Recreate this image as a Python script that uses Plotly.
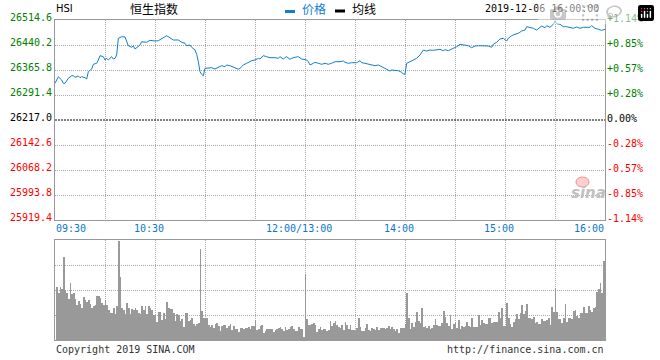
import plotly.graph_objects as go

# ---------------- data ----------------
prev_close = 26217.0
price_ticks = [26514.6, 26440.2, 26365.8, 26291.4, 26217.0, 26142.6, 26068.2, 25993.8, 25919.4]
pct_ticks = ["+1.14%", "+0.85%", "+0.57%", "+0.28%", "0.00%", "-0.28%", "-0.57%", "-0.85%", "-1.14%"]
time_labels = ["09:30", "10:30", "12:00/13:00", "14:00", "15:00", "16:00"]

# trading minutes since 09:30 (lunch break removed, 0..330)
price_minute = [
    0, 2, 4, 5, 6, 8, 10, 11, 12, 14,
    15, 16, 18, 19, 20, 22, 23, 25, 26, 27,
    29, 30, 31, 32, 34, 35, 36, 37, 38, 40,
    42, 43, 44, 46, 47, 48, 50, 51, 52, 55,
    57, 60, 62, 64, 66, 67, 69, 71, 74, 76,
    78, 79, 81, 82, 84, 85, 86, 87, 88, 89,
    90, 92, 94, 96, 98, 100, 102, 103, 105, 107,
    109, 110, 111, 113, 115, 116, 118, 120, 122, 123,
    125, 127, 129, 132, 134, 135, 137, 138, 139, 141,
    142, 144, 146, 148, 149, 151, 152, 153, 155, 156,
    158, 160, 162, 164, 166, 168, 171, 173, 174, 176,
    178, 181, 183, 184, 186, 188, 190, 192, 194, 196,
    197, 199, 201, 202, 204, 206, 208, 209, 210, 211,
    213, 215, 217, 219, 220, 221, 223, 225, 227, 229,
    231, 233, 234, 236, 238, 240, 241, 243, 245, 248,
    250, 252, 254, 256, 258, 260, 262, 263, 265, 267,
    269, 271, 272, 274, 276, 278, 280, 282, 283, 285,
    287, 289, 291, 292, 294, 295, 297, 299, 300, 301,
    303, 305, 307, 309, 311, 313, 315, 317, 319, 321,
    322, 324, 326, 328, 330,
]
price_value = [
    26326.2, 26345.9, 26336.0, 26326.2, 26326.2, 26341.1, 26348.8, 26348.8, 26344.1, 26347.9,
    26342.9, 26345.9, 26342.9, 26339.0, 26360.7, 26368.8, 26382.8, 26385.7, 26395.6, 26408.4,
    26405.4, 26395.6, 26400.6, 26395.6, 26405.4, 26398.5, 26400.6, 26410.4, 26460.1, 26464.9,
    26464.0, 26452.1, 26438.1, 26433.4, 26437.2, 26428.3, 26435.1, 26440.2, 26450.0, 26448.2,
    26454.2, 26452.1, 26453.0, 26460.1, 26464.9, 26467.9, 26460.1, 26455.1, 26455.1, 26448.2,
    26445.3, 26438.1, 26440.2, 26433.4, 26425.3, 26412.5, 26390.5, 26360.7, 26353.0, 26348.8,
    26370.9, 26372.6, 26372.6, 26368.8, 26372.6, 26378.6, 26375.6, 26380.7, 26378.6, 26373.8,
    26370.9, 26367.9, 26370.9, 26380.7, 26385.7, 26388.7, 26393.5, 26395.6, 26400.6, 26398.5,
    26408.4, 26405.4, 26402.4, 26402.4, 26400.6, 26405.4, 26398.5, 26402.4, 26405.4, 26397.6,
    26400.6, 26403.6, 26405.4, 26398.5, 26397.6, 26395.6, 26390.5, 26380.7, 26385.7, 26388.7,
    26385.7, 26382.8, 26385.7, 26382.8, 26385.7, 26390.5, 26390.5, 26392.6, 26388.7, 26385.7,
    26387.5, 26387.5, 26393.5, 26387.5, 26385.7, 26382.8, 26380.7, 26378.6, 26380.7, 26375.6,
    26370.9, 26367.9, 26362.8, 26365.8, 26363.7, 26363.7, 26359.0, 26353.9, 26353.0, 26385.7,
    26390.5, 26395.6, 26400.6, 26410.4, 26418.5, 26425.3, 26422.3, 26425.3, 26424.4, 26426.2,
    26427.4, 26423.2, 26426.2, 26423.2, 26427.4, 26432.2, 26435.1, 26442.3, 26440.2, 26438.1,
    26432.2, 26437.2, 26438.1, 26437.2, 26438.1, 26437.2, 26433.4, 26442.3, 26448.2, 26458.1,
    26460.1, 26452.1, 26460.1, 26467.9, 26472.0, 26475.0, 26481.9, 26484.8, 26494.7, 26492.9,
    26489.9, 26484.8, 26491.7, 26496.7, 26491.7, 26497.6, 26492.9, 26501.8, 26511.6, 26503.6,
    26501.8, 26494.7, 26494.7, 26492.9, 26489.9, 26493.8, 26489.9, 26492.9, 26493.8, 26492.9,
    26497.6, 26489.9, 26486.9, 26483.9, 26486.9,
]

# per-minute volume, minutes 1..329, relative units (100 = top of the volume panel)
volume = [
    53, 47, 53, 51, 83, 50, 47, 41, 57, 46,
    47, 41, 35, 39, 36, 32, 43, 40, 38, 40,
    36, 32, 34, 35, 44, 44, 42, 37, 35, 40,
    35, 30, 27, 27, 32, 26, 34, 99, 63, 32,
    30, 26, 37, 32, 26, 31, 30, 32, 30, 27,
    26, 34, 30, 34, 26, 34, 32, 30, 25, 25,
    18, 28, 28, 20, 27, 21, 38, 32, 31, 31,
    27, 19, 26, 25, 19, 21, 13, 27, 27, 19,
    20, 22, 16, 14, 16, 17, 91, 29, 22, 22,
    22, 15, 13, 15, 12, 16, 17, 14, 9, 14,
    15, 15, 12, 14, 16, 10, 14, 11, 11, 8,
    12, 12, 11, 12, 12, 13, 11, 14, 14, 20,
    10, 11, 14, 15, 7, 9, 11, 11, 11, 11,
    8, 10, 11, 12, 13, 11, 9, 13, 10, 11,
    13, 14, 11, 9, 9, 13, 11, 11, 3, 66,
    21, 15, 15, 16, 17, 15, 8, 11, 13, 10,
    11, 11, 9, 10, 19, 14, 17, 19, 15, 13,
    12, 15, 10, 18, 15, 11, 15, 10, 10, 10,
    12, 22, 13, 9, 9, 12, 16, 10, 9, 12,
    11, 10, 13, 10, 12, 12, 12, 11, 12, 14,
    11, 13, 11, 9, 11, 7, 12, 12, 12, 16,
    47, 22, 11, 17, 13, 18, 28, 19, 17, 32,
    13, 14, 12, 14, 11, 12, 15, 21, 15, 14,
    14, 17, 29, 23, 17, 14, 25, 11, 16, 18,
    12, 20, 11, 14, 13, 14, 18, 14, 13, 22,
    13, 13, 13, 25, 15, 20, 17, 16, 16, 22,
    22, 17, 18, 18, 18, 28, 22, 32, 14, 14,
    37, 22, 16, 13, 18, 21, 26, 21, 27, 35,
    26, 29, 36, 22, 22, 21, 23, 17, 18, 16,
    16, 21, 19, 19, 20, 22, 15, 33, 28, 52,
    28, 21, 21, 17, 22, 36, 18, 22, 22, 21,
    29, 30, 24, 22, 27, 27, 33, 27, 27, 34,
    30, 28, 32, 33, 48, 51, 57, 47, 79,
]
volume_minute = list(range(1, len(volume) + 1))
volume_grid = [25, 50, 75]

# ---------------- helpers / styles ----------------
BLUE = "#1080d0"
BORDER = "#999999"
GRID = "#aaaaaa"
MONO = "DejaVu Sans Mono"
CJK = "Noto Sans CJK SC"
W, H = 660, 360
ML, MR, MT, MB = 55, 55, 20, 20
PW, PH = W - ML - MR, H - MT - MB


def trade_minute(label):
    hh, mm = label.split("/")[0].split(":")
    t = int(hh) * 60 + int(mm)
    return t - 570 if t <= 720 else t - 780 + 150


def pxx(x):
    return (x - ML) / PW


def pxy(y):
    return (H - MB - y) / PH


total_min = trade_minute(time_labels[-1])
grid_minutes = list(range(30, total_min, 30))
bar_w = total_min / PW  # one pixel wide

fig = go.Figure()
fig.add_trace(go.Scatter(
    x=price_minute, y=price_value, mode="lines",
    line=dict(color=BLUE, width=1), hoverinfo="skip", showlegend=False,
    xaxis="x", yaxis="y",
))
fig.add_trace(go.Bar(
    x=volume_minute, y=volume, xaxis="x2", yaxis="y2",
    marker=dict(color="#999999", line=dict(width=0)),
    width=bar_w, offset=0, hoverinfo="skip", showlegend=False,
))

axis_common = dict(
    showline=True, linecolor=BORDER, linewidth=1, mirror=True,
    showgrid=True, gridcolor=GRID, gridwidth=1, griddash="1px,1px",
    showticklabels=False, ticks="", zeroline=False, fixedrange=True,
)
inner_price_ticks = [v for v in price_ticks[1:-1] if v != prev_close]

fig.update_layout(
    width=W, height=H,
    margin=dict(l=ML, r=MR, t=MT, b=MB, pad=0),
    paper_bgcolor="white", plot_bgcolor="white",
    showlegend=False, bargap=0, bargroupgap=0,
    xaxis=dict(domain=[0, 1], anchor="y", range=[0, total_min], tickvals=grid_minutes, **axis_common),
    yaxis=dict(domain=[pxy(220), 1], anchor="x", range=[price_ticks[-1], price_ticks[0]],
               tickvals=inner_price_ticks, **axis_common),
    xaxis2=dict(domain=[0, 1], anchor="y2", range=[0, total_min], tickvals=grid_minutes, **axis_common),
    yaxis2=dict(domain=[0, pxy(240)], anchor="x2", range=[0, 100], tickvals=volume_grid, **axis_common),
)

shapes = [
    dict(type="line", xref="x", yref="y", x0=0, x1=total_min, y0=prev_close, y1=prev_close,
         line=dict(color="black", width=1, dash="2px,1px")),
    # legend markers
    dict(type="rect", xref="paper", yref="paper", x0=pxx(285), x1=pxx(295), y0=pxy(13), y1=pxy(10),
         fillcolor=BLUE, line=dict(width=0)),
    dict(type="rect", xref="paper", yref="paper", x0=pxx(335), x1=pxx(345), y0=pxy(12.5), y1=pxy(9.5),
         fillcolor="black", line=dict(width=0)),
    # sina watermark eye
    dict(type="circle", xref="paper", yref="paper", x0=pxx(576), x1=pxx(589), y0=pxy(187), y1=pxy(177),
         fillcolor="#fbd0d0", line=dict(color="#f09090", width=1), layer="below"),
]

ann = []
for v, pct in zip(price_ticks, pct_ticks):
    col = "#008000" if v > prev_close else ("#000000" if v == prev_close else "#ff0000")
    ann.append(dict(x=0, xref="paper", y=v, yref="y", text=f"{v:.1f}", showarrow=False,
                    xanchor="right", yanchor="middle", xshift=-1, yshift=3,
                    font=dict(family=MONO, size=10, color=col)))
    ann.append(dict(x=1, xref="paper", y=v, yref="y", text=pct, showarrow=False,
                    xanchor="left", yanchor="middle", xshift=0, yshift=2,
                    font=dict(family=MONO, size=10, color=col)))

for i, lab in enumerate(time_labels):
    if i == 0:
        xa, sh = "left", -1
    elif i == len(time_labels) - 1:
        xa, sh = "right", 1
    else:
        xa, sh = "center", -6
    ann.append(dict(x=trade_minute(lab), xref="x", y=pxy(228), yref="paper", text=lab,
                    showarrow=False, xanchor=xa, yanchor="middle", xshift=sh,
                    font=dict(family=MONO, size=10, color="#0a78d0")))

ann += [
    dict(x=pxx(54), xref="paper", y=pxy(9), yref="paper", text="HSI", showarrow=False,
         xanchor="left", yanchor="middle", font=dict(family="DejaVu Sans", size=10, color="black")),
    dict(x=pxx(154), xref="paper", y=pxy(9), yref="paper", text="恒生指数", showarrow=False,
         xanchor="center", yanchor="middle", font=dict(family=CJK, size=12, color="black")),
    dict(x=pxx(300), xref="paper", y=pxy(9), yref="paper", text="价格", showarrow=False,
         xanchor="left", yanchor="middle", font=dict(family=CJK, size=12, color=BLUE)),
    dict(x=pxx(350), xref="paper", y=pxy(9), yref="paper", text="均线", showarrow=False,
         xanchor="left", yanchor="middle", font=dict(family=CJK, size=12, color="black")),
    dict(x=pxx(601), xref="paper", y=pxy(8.5), yref="paper", text="2019-12-06 16:00:00", showarrow=False,
         xanchor="right", yanchor="middle", font=dict(family=MONO, size=10, color="black")),
    dict(x=0, xref="paper", y=pxy(349.5), yref="paper", text="Copyright 2019 SINA.COM", showarrow=False,
         xanchor="left", yanchor="middle", xshift=-1, font=dict(family=MONO, size=10, color="#333333")),
    dict(x=1, xref="paper", y=pxy(349.5), yref="paper", text="http://finance.sina.com.cn", showarrow=False,
         xanchor="right", yanchor="middle", xshift=1, font=dict(family=MONO, size=10, color="#333333")),
    dict(x=pxx(588), xref="paper", y=pxy(193), yref="paper", text="<b><i>sina</i></b>", showarrow=False,
         xanchor="center", yanchor="middle", font=dict(family="DejaVu Sans", size=15, color="#c0c0c0")),
]

fig.update_layout(shapes=shapes, annotations=ann)
fig.write_html(
    "out.html",
    post_script="document.body.style.margin='0';document.body.style.padding='0';",
)
